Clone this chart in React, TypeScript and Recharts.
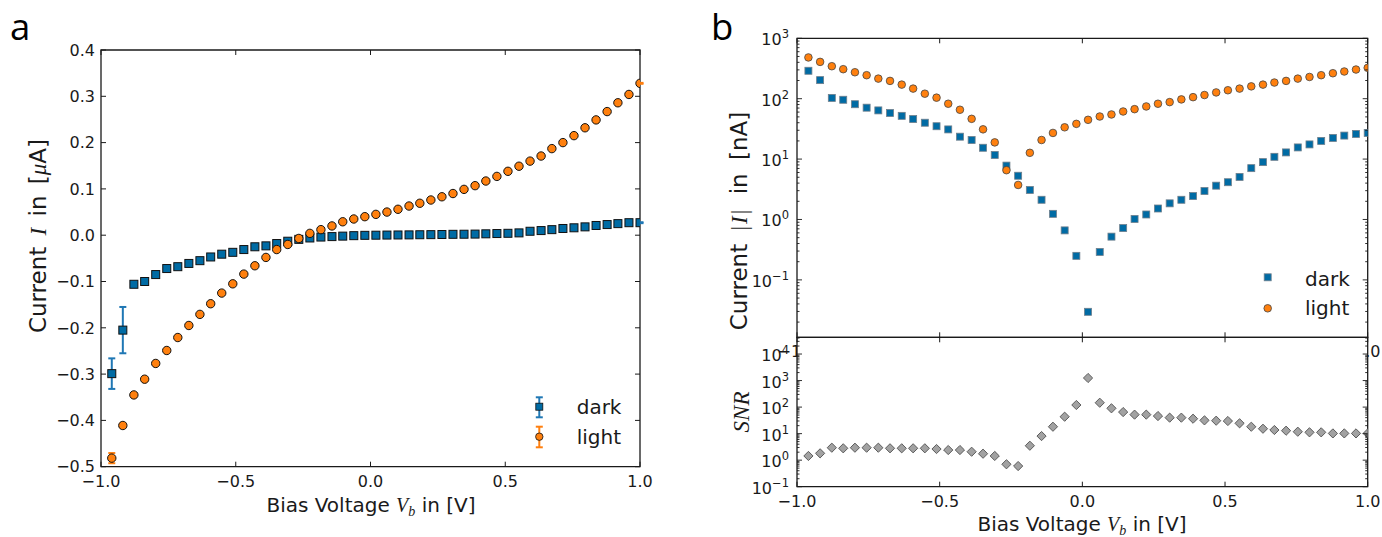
import React from 'react';
import {
  ScatterChart,
  Scatter,
  XAxis,
  YAxis,
  ErrorBar,
  ReferenceArea,
  CartesianGrid,
} from 'recharts';

const W = 1382;
const H = 537;

// bias voltage of each sweep point [V]
const biasVoltage = [
  -0.96, -0.919, -0.878, -0.838, -0.797, -0.756, -0.715, -0.674, -0.633, -0.593,
  -0.552, -0.511, -0.47, -0.429, -0.388, -0.348, -0.307, -0.266, -0.225, -0.184,
  -0.143, -0.103, -0.062, -0.021, 0.02, 0.061, 0.102, 0.143, 0.183, 0.224,
  0.265, 0.306, 0.347, 0.388, 0.428, 0.469, 0.51, 0.551, 0.592, 0.633,
  0.673, 0.714, 0.755, 0.796, 0.837, 0.878, 0.918, 0.959, 1.0,
];

// panel a: signed current [µA]
const darkCurrent = [
  -0.299, -0.205, -0.106, -0.1, -0.085, -0.072, -0.068, -0.061, -0.055, -0.047,
  -0.041, -0.037, -0.031, -0.025, -0.023, -0.018, -0.013, -0.009, -0.006, -0.004,
  -0.003, -0.002, -0.001, -0.0003, 0.0, 0.0003, 0.0005, 0.0007, 0.001, 0.0012,
  0.0015, 0.0019, 0.0021, 0.0024, 0.003, 0.0036, 0.0041, 0.005, 0.0085, 0.01,
  0.012, 0.0145, 0.016, 0.018, 0.021, 0.023, 0.025, 0.027, 0.027,
];
const lightCurrent = [
  -0.4815, -0.411, -0.345, -0.311, -0.277, -0.249, -0.221, -0.195, -0.171, -0.148,
  -0.125, -0.105, -0.084, -0.066, -0.048, -0.031, -0.02, -0.007, 0.004, 0.012,
  0.02, 0.029, 0.035, 0.04, 0.045, 0.05, 0.056, 0.063, 0.069, 0.076,
  0.083, 0.09, 0.099, 0.107, 0.117, 0.127, 0.138, 0.149, 0.16, 0.171,
  0.187, 0.2, 0.215, 0.232, 0.249, 0.267, 0.286, 0.304, 0.328,
];
const darkError = [
  0.033, 0.05, 0.003, 0.003, 0.002, 0.002, 0.002, 0.002, 0.002, 0.002,
  0.001, 0.001, 0.001, 0.001, 0.001, 0.001, 0.001, 0.001, 0.001, 0.001,
  0.001, 0.001, 0.001, 0.001, 0.001, 0.001, 0.001, 0.001, 0.001, 0.001,
  0.001, 0.001, 0.001, 0.001, 0.001, 0.001, 0.001, 0.001, 0.001, 0.001,
  0.001, 0.001, 0.001, 0.001, 0.001, 0.001, 0.001, 0.001, 0.001,
];
const lightError = [
  0.011, 0.004, 0.003, 0.002, 0.002, 0.002, 0.002, 0.002, 0.002, 0.002,
  0.001, 0.001, 0.001, 0.001, 0.001, 0.001, 0.001, 0.001, 0.001, 0.001,
  0.001, 0.001, 0.001, 0.001, 0.001, 0.001, 0.001, 0.001, 0.001, 0.001,
  0.001, 0.001, 0.001, 0.001, 0.001, 0.001, 0.001, 0.001, 0.001, 0.001,
  0.001, 0.001, 0.001, 0.001, 0.001, 0.001, 0.001, 0.001, 0.001,
];

// panel b: |I| [nA] and signal-to-noise ratio
const darkAbs = [
  290, 203, 103, 96, 81, 71, 64, 58, 52, 46,
  40, 35, 31, 23.5, 20.7, 15.4, 11.7, 7.8, 5.3, 3.08,
  2.12, 1.24, 0.66, 0.25, 0.0296, 0.29, 0.52, 0.72, 1.02, 1.21,
  1.52, 1.85, 2.12, 2.44, 2.96, 3.63, 4.14, 5.07, 7.08, 8.91,
  10.9, 12.9, 15.6, 17.5, 20, 22.4, 24.5, 26.1, 27.1,
];
const lightAbs = [
  482, 407, 345, 308, 274, 245, 215, 197, 171, 147,
  121, 104, 82.5, 65.6, 46.4, 31.1, 18.9, 6.55, 3.73, 12.7,
  20.7, 27.1, 33.6, 38.3, 44.7, 50.7, 54.8, 61.4, 67.1, 74.4,
  82.5, 87.8, 97.3, 106, 115, 127, 138, 147, 160, 171,
  185, 197, 215, 229, 245, 264, 282, 304, 324,
];
const snr = [
  1.44, 1.81, 2.95, 2.8, 2.95, 2.95, 2.95, 2.8, 2.8, 2.8,
  2.8, 2.63, 2.41, 2.41, 2.08, 1.75, 1.44, 0.7, 0.6, 3.5,
  8.1, 18.2, 43.4, 120, 1250, 146, 90, 65, 52, 52,
  46, 40, 40, 36.5, 31.6, 30.7, 29.9, 24.5, 18.2, 15.3,
  13.7, 12.9, 11.8, 11.2, 11.2, 10.2, 10.2, 10.2, 10.2,
];

// axis ticks
const voltTicks = [-1, -0.5, 0, 0.5, 1];
const voltLabels = ['\u22121.0', '\u22120.5', '0.0', '0.5', '1.0'];
const currentTicks = [-0.5, -0.4, -0.3, -0.2, -0.1, 0, 0.1, 0.2, 0.3, 0.4];
const currentLabels = [
  '\u22120.5', '\u22120.4', '\u22120.3', '\u22120.2', '\u22120.1',
  '0.0', '0.1', '0.2', '0.3', '0.4',
];
const absDecades = [0.1, 1, 10, 100, 1000];
const absExponents = ['\u22121', '0', '1', '2', '3'];
const snrDecades = [0.1, 1, 10, 100, 1000, 10000];
const snrExponents = ['\u22121', '0', '1', '2', '3', '4'];

const absDomain = [0.0112, 1000];
const snrDomain = [0.1, 42700];

const BLUE = '#006BA4';
const ORANGE = '#FF800E';
const BLUE_ERR = '#1f77b4';
const ORANGE_ERR = '#ff7f0e';
const GREY = '#A2A2A2';
const INK = '#1a1a1a';
const SANS = '"DejaVu Sans", sans-serif';
const MATH = '"Liberation Serif", "DejaVu Serif", serif';

type Plot = { left: number; top: number; right: number; bottom: number };

const plotA: Plot = { left: 101, top: 50, right: 640, bottom: 466.7 };
const plotB: Plot = { left: 797, top: 38.3, right: 1367.7, bottom: 337.3 };
const plotSnr: Plot = { left: 797, top: 337.3, right: 1367.7, bottom: 486.7 };

// axes get 1px of room (a zero-sized axis is not drawn)
const marginOf = (p: Plot) => ({
  top: p.top,
  left: p.left - 1,
  right: W - p.right,
  bottom: H - p.bottom - 1,
});

// minor ticks (2..9 x decade) plus the decades, inside the domain
const logTicks = (decades: number[], domain: number[]) => {
  const out: number[] = [];
  [decades[0] / 10, ...decades].forEach((d) => {
    [1, 2, 3, 4, 5, 6, 7, 8, 9].forEach((m) => {
      const t = d * m;
      if (t >= domain[0] && t <= domain[1]) out.push(m === 1 ? d : t);
    });
  });
  return out;
};

const xTick = (plot: Plot) => (props: any) => {
  const { x, payload } = props;
  const i = voltTicks.indexOf(payload.value);
  return (
    <g>
      <line x1={x} x2={x} y1={plot.bottom} y2={plot.bottom - 5} stroke={INK} />
      <line x1={x} x2={x} y1={plot.top} y2={plot.top + 5} stroke={INK} />
      <text x={x} y={plot.bottom + 20} textAnchor="middle" fontSize={16} fontFamily={SANS} fill={INK}>
        {voltLabels[i]}
      </text>
    </g>
  );
};

const linYTick = (plot: Plot) => (props: any) => {
  const { y, payload } = props;
  const i = currentTicks.indexOf(payload.value);
  return (
    <g>
      <line x1={plot.left} x2={plot.left + 5} y1={y} y2={y} stroke={INK} />
      <line x1={plot.right - 5} x2={plot.right} y1={y} y2={y} stroke={INK} />
      <text x={plot.left - 6} y={y} dy="0.36em" textAnchor="end" fontSize={16} fontFamily={SANS} fill={INK}>
        {currentLabels[i]}
      </text>
    </g>
  );
};

const logYTick = (plot: Plot, decades: number[], exps: string[]) => (props: any) => {
  const { y, payload } = props;
  const i = decades.indexOf(payload.value);
  const len = i >= 0 ? 5 : 2.5;
  return (
    <g>
      <line x1={plot.left} x2={plot.left + len} y1={y} y2={y} stroke={INK} strokeWidth={0.9} />
      <line x1={plot.right - len} x2={plot.right} y1={y} y2={y} stroke={INK} strokeWidth={0.9} />
      {i >= 0 && (
        <text x={plot.left - 8} y={y + 7} textAnchor="end" fontSize={16} fontFamily={SANS} fill={INK}>
          10
          <tspan dy={-7} fontSize={11.5}>{exps[i]}</tspan>
        </text>
      )}
    </g>
  );
};

const square = (side: number, fill: string, stroke: string, sw: number) => (p: any) => (
  <rect x={p.cx - side / 2} y={p.cy - side / 2} width={side} height={side} fill={fill} stroke={stroke} strokeWidth={sw} />
);
const circle = (r: number, fill: string, stroke: string, sw: number) => (p: any) => (
  <circle cx={p.cx} cy={p.cy} r={r} fill={fill} stroke={stroke} strokeWidth={sw} />
);
const diamond = (h: number, fill: string, stroke: string) => (p: any) => (
  <path
    d={`M${p.cx},${p.cy - h} L${p.cx + h},${p.cy} L${p.cx},${p.cy + h} L${p.cx - h},${p.cy} Z`}
    fill={fill}
    stroke={stroke}
    strokeWidth={1}
  />
);

const darkA = biasVoltage.map((v, i) => ({ v, c: darkCurrent[i], err: darkError[i] }));
const lightA = biasVoltage.map((v, i) => ({ v, c: lightCurrent[i], err: lightError[i] }));
const darkB = biasVoltage.map((v, i) => ({ v, c: darkAbs[i] }));
const lightB = biasVoltage.map((v, i) => ({ v, c: lightAbs[i] }));
const snrB = biasVoltage.map((v, i) => ({ v, c: snr[i] }));

const layer: React.CSSProperties = { position: 'absolute', left: 0, top: 0 };

const PanelA = () => (
  <div style={layer}>
    <ScatterChart width={W} height={H} margin={marginOf(plotA)}>
      <XAxis
        type="number"
        dataKey="v"
        domain={[-1, 1]}
        ticks={voltTicks}
        interval={0}
        allowDataOverflow
        height={1}
        tickSize={0}
        tickMargin={0}
        axisLine={false}
        tick={xTick(plotA)}
      />
      <YAxis
        type="number"
        dataKey="c"
        domain={[-0.5, 0.4]}
        ticks={currentTicks}
        interval={0}
        allowDataOverflow
        width={1}
        tickSize={0}
        tickMargin={0}
        axisLine={false}
        tick={linYTick(plotA)}
      />
      <Scatter data={darkA} isAnimationActive={false} shape={square(8, BLUE, '#111', 1)}>
        <ErrorBar dataKey="err" direction="y" width={3.5} strokeWidth={2} stroke={BLUE_ERR} />
      </Scatter>
      <Scatter data={lightA} isAnimationActive={false} shape={circle(4.2, ORANGE, '#111', 1)}>
        <ErrorBar dataKey="err" direction="y" width={3.5} strokeWidth={2} stroke={ORANGE_ERR} />
      </Scatter>
      <ReferenceArea x1={-1} x2={1} y1={-0.5} y2={0.4} fill="none" fillOpacity={0} stroke={INK} strokeWidth={1.3} />
    </ScatterChart>
  </div>
);

const PanelBTop = () => (
  <div style={layer}>
    <ScatterChart width={W} height={H} margin={marginOf(plotB)}>
      <XAxis
        type="number"
        dataKey="v"
        domain={[-1, 1]}
        ticks={voltTicks}
        interval={0}
        allowDataOverflow
        height={1}
        tickSize={0}
        tickMargin={0}
        axisLine={false}
        tick={xTick(plotB)}
      />
      <YAxis
        type="number"
        dataKey="c"
        scale="log"
        domain={absDomain}
        ticks={logTicks(absDecades, absDomain)}
        interval={0}
        allowDataOverflow
        width={1}
        tickSize={0}
        tickMargin={0}
        axisLine={false}
        tick={logYTick(plotB, absDecades, absExponents)}
      />
      <Scatter data={darkB} isAnimationActive={false} shape={square(7, BLUE, '#6f7f8c', 0.8)} />
      <Scatter data={lightB} isAnimationActive={false} shape={circle(3.8, ORANGE, '#444', 0.8)} />
      <ReferenceArea x1={-1} x2={1} y1={absDomain[0]} y2={absDomain[1]} fill="none" fillOpacity={0} stroke={INK} strokeWidth={1.3} />
    </ScatterChart>
  </div>
);

const PanelBSnr = () => (
  <div style={layer}>
    <ScatterChart width={W} height={H} margin={marginOf(plotSnr)}>
      <CartesianGrid horizontal={false} vertical={false} fill="#fff" stroke="none" />
      <XAxis
        type="number"
        dataKey="v"
        domain={[-1, 1]}
        ticks={voltTicks}
        interval={0}
        allowDataOverflow
        height={1}
        tickSize={0}
        tickMargin={0}
        axisLine={false}
        tick={xTick(plotSnr)}
      />
      <YAxis
        type="number"
        dataKey="c"
        scale="log"
        domain={snrDomain}
        ticks={logTicks(snrDecades, snrDomain)}
        interval={0}
        allowDataOverflow
        width={1}
        tickSize={0}
        tickMargin={0}
        axisLine={false}
        tick={logYTick(plotSnr, snrDecades, snrExponents)}
      />
      <Scatter data={snrB} isAnimationActive={false} shape={diamond(4.6, GREY, '#5c5c5c')} />
      <ReferenceArea x1={-1} x2={1} y1={snrDomain[0]} y2={snrDomain[1]} fill="none" fillOpacity={0} stroke={INK} strokeWidth={1.3} />
    </ScatterChart>
  </div>
);

const labelStyle = { fontSize: 20, fontFamily: SANS, fill: INK };
const yLabelStyle = { fontSize: 23, fontFamily: SANS, fill: INK };
const LETTER_FONT = '"Open Sans", sans-serif';

// axis titles, legends and panel letters
const Annotations = () => (
  <svg width={W} height={H} style={{ ...layer, pointerEvents: 'none' }}>
    <text x={10} y={39.5} fontSize={36.5} fontFamily={LETTER_FONT} fill="#000">a</text>
    <text x={711} y={39.5} fontSize={36.5} fontFamily={LETTER_FONT} fill="#000">b</text>

    {/* panel a titles */}
    <text x={371} y={512} textAnchor="middle" {...labelStyle}>
      Bias Voltage <tspan fontFamily={MATH} fontStyle="italic">V</tspan>
      <tspan fontFamily={MATH} fontStyle="italic" fontSize={14} dy={4}>b</tspan>
      <tspan dy={-4}> in [V]</tspan>
    </text>
    <text transform="translate(46,236) rotate(-90)" textAnchor="middle" wordSpacing={4} {...yLabelStyle}>
      Current <tspan fontFamily={MATH} fontStyle="italic">I</tspan> in [<tspan fontFamily={MATH} fontStyle="italic">μ</tspan>A]
    </text>

    {/* panel b titles */}
    <text x={1082} y={531} textAnchor="middle" {...labelStyle}>
      Bias Voltage <tspan fontFamily={MATH} fontStyle="italic">V</tspan>
      <tspan fontFamily={MATH} fontStyle="italic" fontSize={14} dy={4}>b</tspan>
      <tspan dy={-4}> in [V]</tspan>
    </text>
    <text transform="translate(747,221) rotate(-90)" textAnchor="middle" wordSpacing={6} {...yLabelStyle}>
      Current <tspan fontFamily={MATH} letterSpacing={2}>|<tspan fontStyle="italic">I</tspan>|</tspan> in [nA]
    </text>
    <text transform="translate(749,412) rotate(-90)" textAnchor="middle" fontSize={23} fontFamily={MATH} fontStyle="italic" fill={INK}>
      SNR
    </text>

    {/* legend a */}
    <g stroke={BLUE_ERR} strokeWidth={2}>
      <line x1={539.3} x2={539.3} y1={397.3} y2={417.3} />
      <line x1={535.8} x2={542.8} y1={397.3} y2={397.3} />
      <line x1={535.8} x2={542.8} y1={417.3} y2={417.3} />
    </g>
    <rect x={535.8} y={403.2} width={7} height={7} fill={BLUE} stroke="#111" strokeWidth={0.8} />
    <text x={576.7} y={414} {...labelStyle}>dark</text>
    <g stroke={ORANGE_ERR} strokeWidth={2}>
      <line x1={539.3} x2={539.3} y1={426.7} y2={447.3} />
      <line x1={535.8} x2={542.8} y1={426.7} y2={426.7} />
      <line x1={535.8} x2={542.8} y1={447.3} y2={447.3} />
    </g>
    <circle cx={539.3} cy={436.7} r={3.7} fill={ORANGE} stroke="#111" strokeWidth={0.8} />
    <text x={576.7} y={443.5} {...labelStyle}>light</text>

    {/* legend b */}
    <rect x={1264.2} y={273.8} width={7} height={7} fill={BLUE} stroke="#6f7f8c" strokeWidth={0.8} />
    <text x={1305} y={286} {...labelStyle}>dark</text>
    <circle cx={1267.7} cy={308.3} r={3.8} fill={ORANGE} stroke="#444" strokeWidth={0.8} />
    <text x={1305} y={314.5} {...labelStyle}>light</text>
  </svg>
);

const App = () => (
  <div style={{ position: 'absolute', left: 0, top: 0, width: W, height: H, background: '#fff', overflow: 'hidden' }}>
    <PanelA />
    <PanelBTop />
    <PanelBSnr />
    <Annotations />
  </div>
);

export default App;
